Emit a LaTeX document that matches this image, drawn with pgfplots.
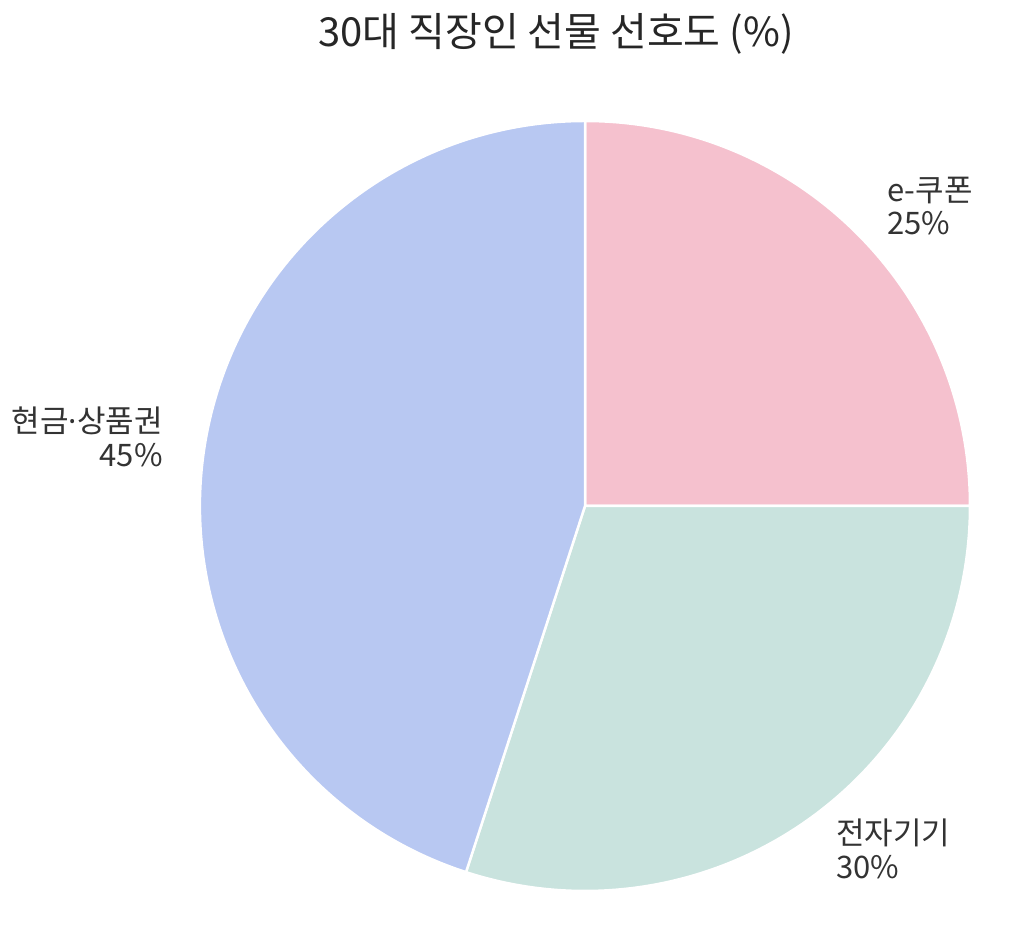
\documentclass[border=0pt]{standalone}
\usepackage{fontspec}
\setmainfont{Noto Sans CJK KR}
\newfontfamily\latinfont{Noto Sans}
\usepackage{pgfplots}
\usepackage{pgfplotstable}
\pgfplotsset{compat=1.18}
\definecolor{pieA}{HTML}{F5C1CE}
\definecolor{pieB}{HTML}{C9E3DE}
\definecolor{pieC}{HTML}{B8C8F2}
\definecolor{txt}{HTML}{333333}
\definecolor{ttl}{HTML}{262626}
\pgfplotstableread{
label value
coupon 25
device 30
cash 45
}\piedata
\begin{document}
\begin{tikzpicture}
\begin{axis}[
  x=0.5pt, y=0.5pt,
  xmin=0, xmax=1024, ymin=0, ymax=942,
  hide axis, clip=false,
]
\pgfplotstablegetelem{0}{value}\of\piedata \pgfmathsetmacro{\va}{\pgfplotsretval}
\pgfplotstablegetelem{1}{value}\of\piedata \pgfmathsetmacro{\vb}{\pgfplotsretval}
\pgfplotstablegetelem{2}{value}\of\piedata \pgfmathsetmacro{\vc}{\pgfplotsretval}
\pgfmathsetmacro{\tot}{\va+\vb+\vc}
\pgfmathsetmacro{\aA}{90}
\pgfmathsetmacro{\aB}{90-360*\va/\tot}
\pgfmathsetmacro{\aC}{\aB-360*\vb/\tot}
\pgfmathsetmacro{\aD}{\aC-360*\vc/\tot}
\coordinate (bbsw) at (axis cs:0,0);
\coordinate (bbne) at (axis cs:1024,942);
\filldraw[fill=pieA, draw=white, line width=1.25pt, line join=round]
  (axis cs:585,436) -- ++(\aA:192.5pt) arc[start angle=\aA, end angle=\aB, radius=192.5pt] -- cycle;
\filldraw[fill=pieB, draw=white, line width=1.25pt, line join=round]
  (axis cs:585,436) -- ++(\aB:192.5pt) arc[start angle=\aB, end angle=\aC, radius=192.5pt] -- cycle;
\filldraw[fill=pieC, draw=white, line width=1.25pt, line join=round]
  (axis cs:585,436) -- ++(\aC:192.5pt) arc[start angle=\aC, end angle=\aD, radius=192.5pt] -- cycle;
\node[anchor=base, text=ttl, inner sep=0pt, font=\fontsize{20}{24}\selectfont] at (axis cs:556,895) {30대 직장인 선물 선호도 (\%)};
\node[anchor=west, text=txt, inner sep=0pt, align=left, font=\fontsize{15.5}{16.8}\selectfont] at (axis cs:887,736) {e-쿠폰\\25\%};
\node[anchor=west, text=txt, inner sep=0pt, align=left, font=\fontsize{15.5}{16.8}\selectfont] at (axis cs:836,93) {전자기기\\30\%};
\node[anchor=east, text=txt, inner sep=0pt, align=right, font=\fontsize{15.5}{16.8}\selectfont] at (axis cs:163,505) {현금{\latinfont ·}상품권\\45\%};
\end{axis}
\pgfresetboundingbox
\useasboundingbox (bbsw) rectangle (bbne);
\end{tikzpicture}
\end{document}
